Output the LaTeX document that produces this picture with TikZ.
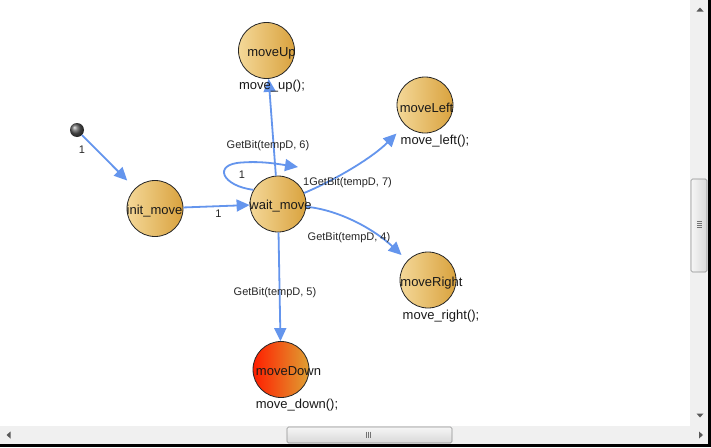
\documentclass[tikz,border=0pt]{standalone}
\usepackage{fontspec}
\setmainfont{Liberation Sans}
\usetikzlibrary{arrows.meta,shadings}
\definecolor{edgeblue}{HTML}{6495ED}
\definecolor{goldL}{HTML}{F4D898}
\definecolor{goldR}{HTML}{D9A23E}
\definecolor{redL}{HTML}{FF1E00}
\definecolor{redR}{HTML}{DFA032}
\definecolor{track}{HTML}{F0F0F0}
\definecolor{thumbL}{HTML}{F6F6F6}
\definecolor{thumbR}{HTML}{D8D8D8}
\definecolor{sbborder}{HTML}{8E8F8F}
\begin{document}
\begin{tikzpicture}[x=1pt,y=-1pt,
  statecirc/.style={circle,draw=black!85,line width=0.8pt,minimum size=56pt,inner sep=0pt,left color=goldL,right color=goldR},
  statetext/.style={font=\fontsize{13}{15}\selectfont,text=black!90,inner sep=0pt},
  actiontext/.style={font=\fontsize{13}{15}\selectfont,text=black!90,inner sep=0pt},
  edgelabel/.style={font=\fontsize{11}{13}\selectfont,text=black!85,inner sep=0pt},
  conn/.style={draw=edgeblue,line width=1.8pt,-{Triangle[length=13pt,width=12pt]}},
  sbthumb/.style={draw=sbborder,line width=0.6pt,rounded corners=1.5pt},
  sbgrip/.style={draw=black!55,line width=0.6pt},
  sbarrow/.style={fill=black!65}
]
\useasboundingbox (0,0) rectangle (711,447);
\fill[white] (0,0) rectangle (711,447);

% states
\node[statecirc] (init) at (155,208.5) {};
\node[statecirc] (wait) at (278,204) {};
\node[statecirc] (moveUp) at (266.5,50.5) {};
\node[statecirc] (moveLeft) at (425,105) {};
\node[statecirc] (moveRight) at (428,280) {};
\node[statecirc,left color=redL,right color=redR] (moveDown) at (281,369.5) {};
\node[circle,minimum size=14pt,inner sep=0pt,shading=ball,ball color=black!65] (start) at (77,130) {};

% connectors
\draw[conn,shorten >=11pt] (start) -- (init);
\draw[conn] (init) -- (wait);
\draw[conn] (wait) -- (moveUp);
\draw[conn] (wait) -- (moveDown);
\draw[conn,shorten >=12pt] (wait) .. controls (335,180) and (372,158) .. (moveLeft);
\draw[conn,shorten >=8pt] (wait) .. controls (340,210) and (375,230) .. (moveRight);
\coordinate (looptip) at (298,167);
\draw[conn] (wait.150) .. controls (222,186) and (212,164) .. (242,162.5)
  .. controls (262,161) and (278,164) .. (looptip);

% state names
\node[statetext] (init-t) at (154.5,211) {init\_move};
\node[statetext] (wait-t) at (280.5,206) {wait\_move};
\node[statetext] (moveUp-t) at (271.5,53) {moveUp};
\node[statetext] (moveLeft-t) at (426.5,107.5) {moveLeft};
\node[statetext] (moveRight-t) at (431.5,283) {moveRight};
\node[statetext] (moveDown-t) at (288.5,371) {moveDown};

% actions
\node[actiontext] (moveUp-a) at (272,86.5) {move\_up();};
\node[actiontext] (moveLeft-a) at (435,141.5) {move\_left();};
\node[actiontext] (moveRight-a) at (441,316) {move\_right();};
\node[actiontext] (moveDown-a) at (297,405.5) {move\_down();};

% edge labels
\node[edgelabel] (l-init) at (82,149.5) {1};
\node[edgelabel] (l-iw) at (218.5,213.5) {1};
\node[edgelabel] (l-loop) at (242,175) {1};
\node[edgelabel] (l-up) at (268,146) {GetBit(tempD, 6)};
\node[edgelabel] (l-left) at (347.5,182.5) {1GetBit(tempD, 7)};
\node[edgelabel] (l-right) at (349,237.5) {GetBit(tempD, 4)};
\node[edgelabel] (l-down) at (275,293) {GetBit(tempD, 5)};

% vertical scrollbar
\fill[track] (690,0) rectangle (708,426);
\draw[sbthumb,left color=thumbL,right color=thumbR] (691,179) rectangle (707,272);
\foreach \yy in {221.5,223.5,225.5,227.5} \draw[sbgrip] (697,\yy) -- (702,\yy);
\fill[sbarrow] (700,7.5) -- (703.5,11.5) -- (696.5,11.5) -- cycle;
\fill[sbarrow] (700,417.5) -- (703.5,413.5) -- (696.5,413.5) -- cycle;

% horizontal scrollbar
\fill[track] (0,426) rectangle (708,444);
\draw[sbthumb,top color=thumbL,bottom color=thumbR] (287,427) rectangle (452,443);
\foreach \xx in {366.5,368.5,370.5} \draw[sbgrip] (\xx,431.5) -- (\xx,438);
\fill[sbarrow] (6.5,435) -- (10.5,431.5) -- (10.5,438.5) -- cycle;
\fill[sbarrow] (703,435) -- (699,431.5) -- (699,438.5) -- cycle;

% window edge
\fill[black] (708,0) rectangle (711,447);
\fill[black] (0,444) rectangle (711,447);
\end{tikzpicture}
\end{document}
